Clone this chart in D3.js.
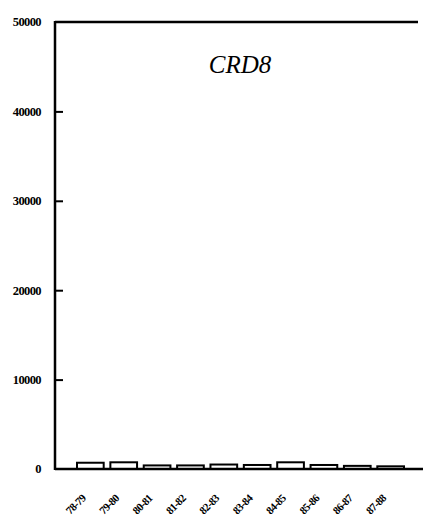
<!DOCTYPE html>
<html>
<head>
<meta charset="utf-8">
<script src="https://cdn.jsdelivr.net/npm/d3@7"></script>
<style>
  body { margin: 0; background: #fff; }
</style>
</head>
<body>
<div class="chart"></div>
<script>
var seasons = ["78-79", "79-80", "80-81", "81-82", "82-83", "83-84", "84-85", "85-86", "86-87", "87-88"];
var values = [700, 750, 400, 400, 500, 450, 750, 450, 350, 300];
var yTicks = [0, 10000, 20000, 30000, 40000, 50000];
var title = "CRD8";

var serif = "'Liberation Serif', 'Times New Roman', 'DejaVu Serif', serif";

var svgWidth = 423;
var svgHeight = 523;
var margin = { top: 22, right: 0, bottom: 54, left: 55 };
var width = svgWidth - margin.left - margin.right;
var height = svgHeight - margin.top - margin.bottom;

var svg = d3.select(".chart")
  .append("svg")
  .attr("width", svgWidth)
  .attr("height", svgHeight);

var chart = svg.append("g")
  .attr("transform", "translate(" + margin.left + "," + margin.top + ")");

var yScale = d3.scaleLinear().domain([0, 50000]).range([height, 0]);
var xScale = d3.scaleBand().domain(seasons).range([22, 349])
  .paddingInner(0.2).paddingOuter(0);

// bars
chart.selectAll("rect.bar")
  .data(values)
  .enter().append("rect")
    .attr("class", "bar")
    .attr("x", function(d, i) { return xScale(seasons[i]); })
    .attr("y", function(d) { return yScale(d); })
    .attr("width", xScale.bandwidth())
    .attr("height", function(d) { return yScale(0) - yScale(d); })
    .attr("fill", "#fff")
    .attr("stroke", "#000")
    .attr("stroke-width", 2);

// y axis
var leftAxis = d3.axisLeft(yScale)
  .tickValues(yTicks.slice(1, 5))
  .tickSize(-8)
  .tickPadding(14)
  .tickFormat(d3.format("d"));

var yAxis = chart.append("g").call(leftAxis);
yAxis.select(".domain").remove();
yAxis.selectAll("line").attr("stroke", "#000").attr("stroke-width", 2);
yAxis.selectAll("text")
  .attr("font-family", serif)
  .attr("font-size", 12.5)
  .attr("font-weight", "bold")
  .attr("letter-spacing", -0.6)
  .attr("fill", "#000");

// end labels for 0 and 50000
chart.selectAll("text.endlab")
  .data([yTicks[0], yTicks[5]])
  .enter().append("text")
    .attr("class", "endlab")
    .attr("x", -14)
    .attr("y", function(d) { return yScale(d); })
    .attr("dy", "0.32em")
    .attr("text-anchor", "end")
    .attr("font-family", serif)
    .attr("font-size", 12.5)
    .attr("font-weight", "bold")
    .attr("letter-spacing", -0.6)
    .text(function(d) { return d; });

// frame lines
chart.append("line")
  .attr("x1", 0).attr("x2", 0)
  .attr("y1", yScale(50000) - 1).attr("y2", yScale(0) + 1)
  .attr("stroke", "#000").attr("stroke-width", 2.5);
chart.append("line")
  .attr("x1", 0).attr("x2", 363)
  .attr("y1", yScale(50000)).attr("y2", yScale(50000))
  .attr("stroke", "#000").attr("stroke-width", 2.5);
chart.append("line")
  .attr("x1", 0).attr("x2", width)
  .attr("y1", yScale(0)).attr("y2", yScale(0))
  .attr("stroke", "#000").attr("stroke-width", 2.5);

// x labels, rotated
chart.selectAll("text.xlab")
  .data(seasons)
  .enter().append("text")
    .attr("class", "xlab")
    .attr("text-anchor", "end")
    .attr("font-family", serif)
    .attr("font-size", 11)
    .attr("font-weight", "bold")
    .attr("letter-spacing", -0.6)
    .attr("transform", function(d) {
      var x = xScale(d) + xScale.bandwidth() / 2 - 4;
      var y = height + 30;
      return "translate(" + x + "," + y + ") rotate(-45)";
    })
    .text(function(d) { return d; });

// title
chart.append("text")
  .attr("x", 185)
  .attr("y", 51)
  .attr("text-anchor", "middle")
  .attr("font-family", serif)
  .attr("font-size", 25)
  .attr("font-style", "italic")
  .text(title);
</script>
</body>
</html>
